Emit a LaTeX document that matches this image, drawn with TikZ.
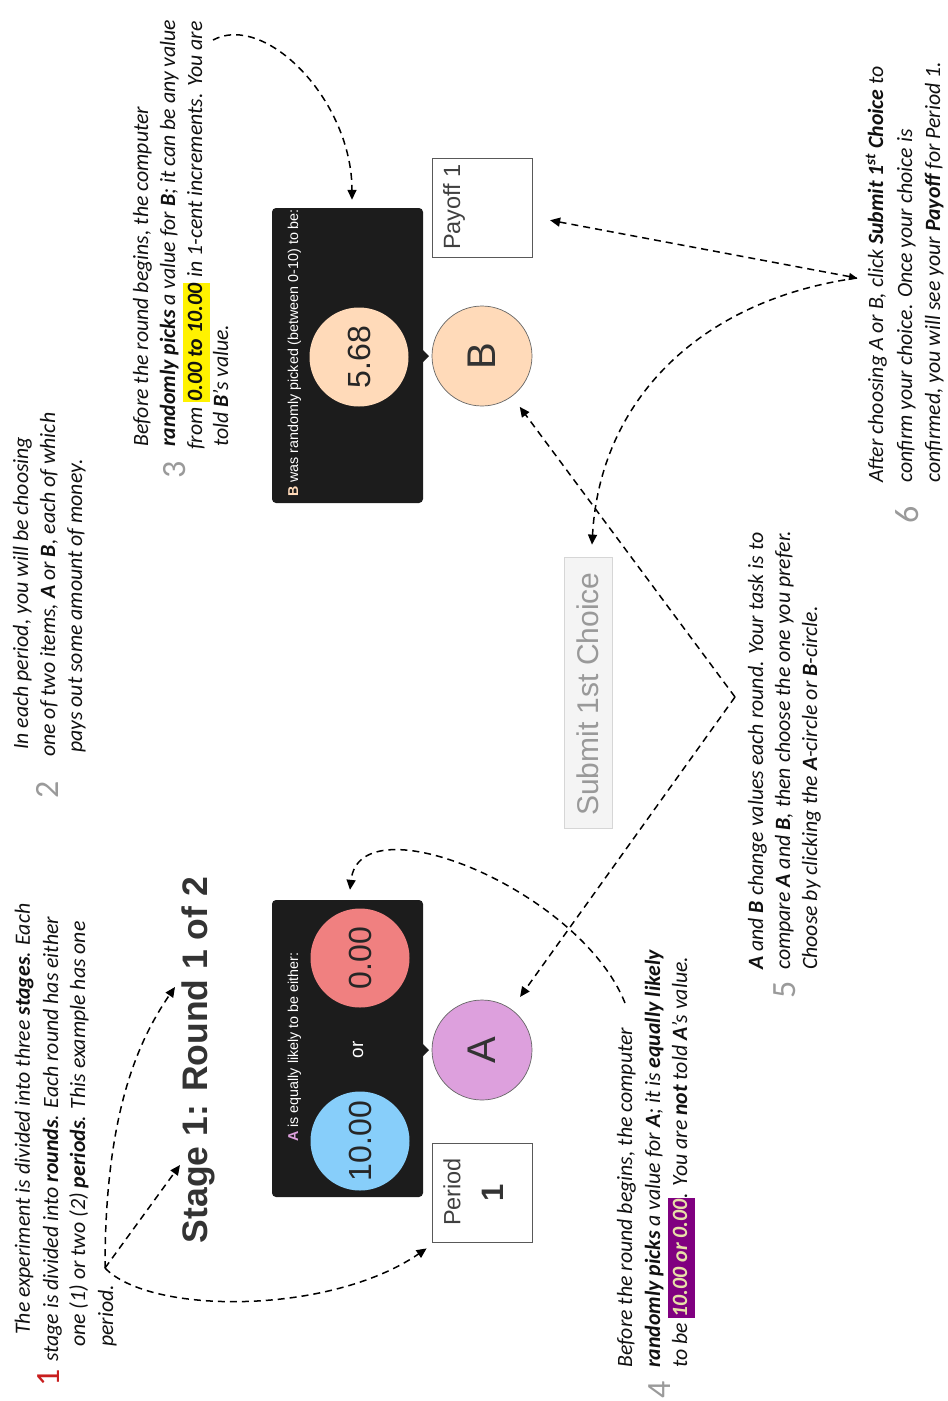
\documentclass[tikz,border=0pt]{standalone}
\usepackage{fontspec}
\setmainfont{Carlito}
\newfontfamily\uifont{Liberation Sans}
\usetikzlibrary{arrows.meta,calc}
\definecolor{boxblack}{HTML}{1C1C1C}
\definecolor{skyb}{HTML}{87CEFA}
\definecolor{coral}{HTML}{F08080}
\definecolor{aplum}{HTML}{DDA0DD}
\definecolor{peach}{HTML}{FFDAB9}
\definecolor{numgray}{HTML}{9A9A9A}
\definecolor{numred}{HTML}{C81E1E}
\definecolor{titlegray}{HTML}{333333}
\definecolor{hlpurple}{HTML}{800080}
\definecolor{hlpale}{HTML}{E8E0A8}
\definecolor{btnfill}{HTML}{F4F4F4}
\definecolor{btnline}{HTML}{D6D6D6}
\definecolor{btntext}{HTML}{999999}
\definecolor{bodyink}{HTML}{111111}
\newcommand\bodytxt{\fontsize{21.8}{27.7}\selectfont\itshape}
\newcommand\hlY[1]{{\setlength\fboxsep{0pt}\colorbox{yellow}{\strut\kern1pt\textbf{#1}\kern1pt}}}
\newcommand\hlP[1]{{\setlength\fboxsep{0pt}\colorbox{hlpurple}{\strut\kern1pt\textcolor{hlpale}{\textbf{#1}}\kern1pt}}}
\begin{document}
\begin{tikzpicture}[x=1pt,y=-1pt,
  txt/.style={rotate=90, anchor=base west, inner sep=0, font=\bodytxt, text=bodyink},
  num/.style={rotate=90, inner sep=0, font=\fontsize{34}{34}\selectfont, text=numgray},
  blackbox/.style={fill=boxblack, rounded corners=4pt, inner sep=0},
  hdr/.style={rotate=90, anchor=base west, inner sep=0, text=white, font=\uifont\fontsize{14.3}{17}\selectfont},
  valcirc/.style={circle, minimum size=99pt, inner sep=0, rotate=90, text=black!85, font=\uifont\fontsize{32}{32}\selectfont},
  itemcirc/.style={circle, minimum size=100pt, inner sep=0, rotate=90, draw=black!60, line width=0.7pt, text=titlegray, font=\uifont\fontsize{40}{40}\selectfont},
  wbox/.style={draw=black!65, line width=0.8pt, fill=white, inner sep=0},
  boxtxt/.style={rotate=90, inner sep=0, text=black!75, font=\uifont\fontsize{23.5}{26}\selectfont},
  dasharr/.style={dash pattern=on 7pt off 5pt, line width=1.5pt, -{Triangle[length=10pt,width=9pt]}}
]
\useasboundingbox (0,0) rectangle (948,1401);

% ---------- UI elements ----------
\node[rotate=90, inner sep=0, text=titlegray, font=\uifont\bfseries\fontsize{35.5}{40}\selectfont] (title) at (198.5,1060) {Stage 1: Round 1 of 2};

% A box
\node[blackbox, minimum width=151pt, minimum height=297pt] (abox) at (347.5,1048.5) {};
\node[hdr] (ahdr) at (298,1142) {\textcolor{aplum}{\textbf{A}} is equally likely to be either:};
\node[valcirc, fill=skyb] (c10) at (360,1141) {10.00};
\node[valcirc, fill=coral] (c0) at (360,958) {0.00};
\node[rotate=90, inner sep=0, text=white, font=\uifont\fontsize{19}{19}\selectfont] (aor) at (358,1050) {or};
\fill[boxblack] (422,1043) -- (429,1050) -- (422,1057) -- cycle;
\node[itemcirc, fill=aplum] (acirc) at (482,1050) {A};

% Period box
\node[wbox, minimum width=100pt, minimum height=99pt] (period) at (482,1192.5) {};
\node[boxtxt] (periodt) at (452,1192) {Period};
\node[rotate=90, inner sep=0, text=black!80, font=\uifont\bfseries\fontsize{31}{31}\selectfont] (period1) at (493,1193) {1};

% B box
\node[blackbox, minimum width=151pt, minimum height=295pt] (bbox) at (347.5,355.5) {};
\node[hdr] (bhdr) at (298,497) {\textcolor{peach}{\textbf{B}} was randomly picked (between 0-10) to be:};
\node[valcirc, fill=peach] (c568) at (359,357) {5.68};
\fill[boxblack] (422,349) -- (429,356) -- (422,363) -- cycle;
\node[itemcirc, fill=peach] (bcirc) at (482,356) {B};

% Payoff box
\node[wbox, minimum width=100pt, minimum height=99pt] (payoff) at (482,207.5) {};
\node[boxtxt] (payofft) at (454,207) {Payoff 1};

% Submit button
\node[draw=btnline, fill=btnfill, line width=0.8pt, minimum width=48pt, minimum height=271pt, inner sep=0] (submit) at (588,692.5) {};
\node[rotate=90, inner sep=0, text=btntext, font=\uifont\fontsize{30}{30}\selectfont] (submitt) at (588,694) {Submit 1st Choice};

% ---------- Numbers ----------
\node[num, text=numred] (n1) at (49,1378) {1};
\node[num] (n2) at (47,790) {2};
\node[num] (n3) at (175,470) {3};
\node[num] (n4) at (660,1390) {4};
\node[num] (n5) at (785,990) {5};
\node[num] (n6) at (907,515) {6};

% ---------- Text block 1 ----------
\node[txt] (b1a) at (30,1335) {The experiment is divided into three \textbf{stages}. Each};
\node[txt] (b1b) at (58,1362) {stage is divided into \textbf{rounds}. Each round has either};
\node[txt] (b1c) at (85,1347) {one (1) or two (2) \textbf{periods}. This example has one};
\node[txt] (b1d) at (113,1347) {period.};

% ---------- Text block 2 ----------
\node[txt] (b2a) at (28,750) {In each period, you will be choosing};
\node[txt] (b2b) at (55,757) {one of two items, \textbf{A} or \textbf{B}, each of which};
\node[txt] (b2c) at (82,753) {pays out some amount of money.};

% ---------- Text block 3 ----------
\node[txt] (b3a) at (148,447) {Before the round begins, the computer};
\node[txt] (b3b) at (175,447) {\textbf{randomly picks} a value for \textbf{B}; it can be any value};
\node[txt] (b3c) at (202,450) {from \hlY{0.00 to 10.00} in 1-cent increments. You are};
\node[txt] (b3d) at (228,447) {told \textbf{B}’s value.};

% ---------- Text block 4 ----------
\node[txt] (b4a) at (632,1368) {Before the round begins, the computer};
\node[txt] (b4b) at (660,1368) {\textbf{randomly picks} a value for \textbf{A}; it is \textbf{equally likely}};
\node[txt] (b4c) at (687,1368) {to be \hlP{10.00 or 0.00}. You are \textbf{not} told \textbf{A}’s value.};

% ---------- Text block 5 ----------
\node[txt] (b5a) at (763,970) {\textbf{A} and \textbf{B} change values each round. Your task is to};
\node[txt] (b5b) at (790,970) {compare \textbf{A} and \textbf{B}, then choose the one you prefer.};
\node[txt] (b5c) at (817,970) {Choose by clicking the \textbf{A}-circle or \textbf{B}-circle.};

% ---------- Text block 6 ----------
\node[txt] (b6a) at (883,483) {After choosing A or B, click \textbf{Submit 1\textsuperscript{st} Choice} to};
\node[txt] (b6b) at (912,483) {confirm your choice. Once your choice is};
\node[txt] (b6c) at (940,483) {confirmed, you will see your \textbf{Payoff} for Period 1.};

% ---------- Connectors ----------
\coordinate (v1) at (105,1268);
\coordinate (v3) at (213,40);
\coordinate (v4) at (625,1003);
\coordinate (v5) at (735,697);
\coordinate (v6) at (857,278);

\draw[dasharr] (v1) .. controls (105,1120) and (135,1045) .. ($(title.center)+(-23.5,-73)$);
\draw[dasharr] (v1) -- ($(title.center)+(-18.5,105)$);
\draw[dasharr] (v1) .. controls (150,1315) and (330,1315) .. ([xshift=-5pt,yshift=-6pt]period.south west);

\draw[dasharr] (v3) .. controls (265,12) and (352,100) .. ([xshift=4.5pt,yshift=8pt]bbox.north);
\draw[dasharr] (v4) .. controls (580,890) and (360,800) .. ([xshift=2.5pt,yshift=10pt]abox.north);

\draw[dasharr, shorten >=15pt] (v5) -- (acirc);
\draw[dasharr, shorten >=13pt] (v5) -- (bcirc);

\draw[dasharr, {Triangle[length=8pt,width=7pt]}-{Triangle[length=10pt,width=9pt]}, shorten >=18pt] (v6) -- (payoff);
\draw[dasharr] (v6) .. controls (700,300) and (600,400) .. ([xshift=4pt,yshift=12pt]submit.north);
\end{tikzpicture}
\end{document}
